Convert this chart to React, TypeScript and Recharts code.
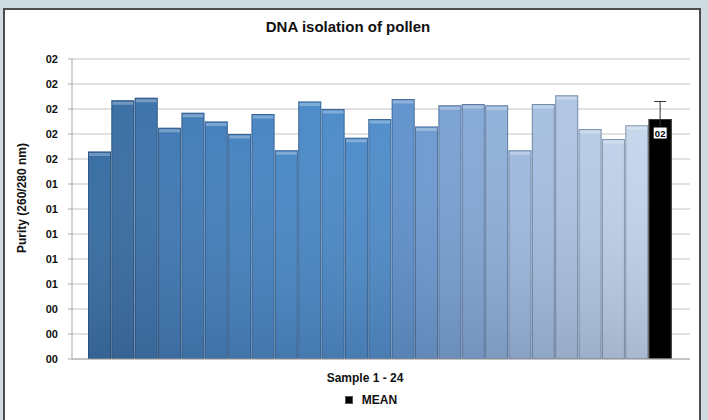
import { Bar, BarChart, CartesianGrid, Cell, ErrorBar, LabelList, Legend, XAxis, YAxis } from "recharts";

const samples = ["1", "2", "3", "4", "5", "6", "7", "8", "9", "10", "11", "12", "13", "14", "15", "16", "17", "18", "19", "20", "21", "22", "23", "24"];
const purity = [1.66, 2.07, 2.09, 1.85, 1.97, 1.9, 1.8, 1.96, 1.67, 2.06, 2.0, 1.77, 1.92, 2.08, 1.86, 2.03, 2.04, 2.03, 1.67, 2.04, 2.11, 1.84, 1.76, 1.87];
const meanLabel = "MEAN";
const meanPurity = 1.92;
const meanError = 0.14;
const yTicks = [0, 0.2, 0.4, 0.6, 0.8, 1.0, 1.2, 1.4, 1.6, 1.8, 2.0, 2.2, 2.4];

const barColors = [
  "#2e679f", "#30679e", "#336ca6", "#3873b0", "#3a77b5", "#3c7ab9", "#3e7ebd", "#4080c0",
  "#4283c3", "#4385c5", "#4586c6", "#4687c7", "#4888c7", "#5a8ecb", "#6896cf", "#759ed1",
  "#80a5d4", "#8badd7", "#9ab7dd", "#a3bddf", "#adc3e2", "#b4c9e5", "#bccfe8", "#c3d4ea",
];
const meanColor = "#000000";

const font = "'Liberation Sans', Arial, sans-serif";

const data = [
  ...samples.map((name, i) => ({ name, purity: purity[i], err: null as number | null })),
  { name: meanLabel, purity: meanPurity, err: meanError },
];

const twoDigits = (v: number) => String(Math.round(v)).padStart(2, "0");

function GlassBar(props: any) {
  const { x, y, width, height, fill, index } = props;
  if (!height || height <= 0) return null;
  const isMean = index === data.length - 1;
  return (
    <g>
      <rect x={x} y={y} width={width} height={height} fill={fill} />
      {!isMean && <rect x={x} y={y} width={width} height={height} fill="url(#bar-shade)" />}
      {!isMean && <rect x={x + 1} y={y + 1.5} width={width - 2} height={3} fill="#ffffff" fillOpacity={0.28} />}
      <rect
        x={x + 0.5}
        y={y + 0.5}
        width={width - 1}
        height={height - 1}
        fill="none"
        stroke={isMean ? "#3a3a3a" : "rgba(20, 40, 70, 0.35)"}
      />
    </g>
  );
}

function MeanTag(props: any) {
  const { x, y, width, value, index } = props;
  if (index !== data.length - 1) return null;
  const cx = x + width / 2;
  return (
    <g>
      <rect x={cx - 7} y={y + 8} width={14} height={12} fill="#ffffff" stroke="#000000" strokeWidth={1} />
      <text x={cx} y={y + 17.5} textAnchor="middle" fontFamily={font} fontSize={9.5} fontWeight={700} fill="#000">
        {twoDigits(value)}
      </text>
    </g>
  );
}

function MeanLegend() {
  return (
    <div style={{ height: 20, display: "flex", alignItems: "center", justifyContent: "center", fontFamily: font }}>
      <span style={{ width: 6, height: 6, background: "#000", border: "1px solid #555", marginRight: 9 }} />
      <span style={{ fontSize: 12, fontWeight: 700, color: "#111" }}>{meanLabel}</span>
    </div>
  );
}

export default function App() {
  return (
    <div style={{ position: "fixed", left: 0, top: 0, width: 708, height: 420, background: "#cfdbe3", overflow: "hidden" }}>
      <div
        style={{
          position: "absolute",
          left: 3,
          top: 8,
          width: 694,
          height: 430,
          background: "#ffffff",
          border: "2px solid #4d4d4d",
        }}
      />
      <div
        style={{
          position: "absolute",
          left: 0,
          top: 18,
          width: 696,
          textAlign: "center",
          fontFamily: font,
          fontSize: 15,
          fontWeight: 700,
          color: "#111",
        }}
      >
        DNA isolation of pollen
      </div>
      <div style={{ position: "absolute", left: 0, top: 0 }}>
        <BarChart width={708} height={420} data={data} barCategoryGap={0} margin={{ top: 59, right: 18, bottom: 13, left: 10 }}>
          <defs>
            <linearGradient id="bar-shade" x1="0" x2="0" y1="0" y2="1">
              <stop offset="0%" stopColor="#ffffff" stopOpacity={0.06} />
              <stop offset="100%" stopColor="#4a5468" stopOpacity={0.22} />
            </linearGradient>
          </defs>
          <CartesianGrid vertical={false} stroke="#c2c2c2" />
          <XAxis
            dataKey="name"
            tick={false}
            tickLine={false}
            axisLine={{ stroke: "#a8a8a8" }}
            height={28}
            padding={{ left: 16, right: 18 }}
            label={{
              content: ({ viewBox }: any) => (
                <text
                  x={viewBox.x + viewBox.width / 2 - 16}
                  y={viewBox.y + 23}
                  textAnchor="middle"
                  fontFamily={font}
                  fontSize={12}
                  fontWeight={700}
                  fill="#111"
                >
                  Sample 1 - 24
                </text>
              ),
            }}
          />
          <YAxis
            domain={[0, 2.4]}
            ticks={yTicks}
            interval={0}
            tickFormatter={twoDigits}
            tick={{ fill: "#111", fontSize: 11, fontWeight: 700, fontFamily: font }}
            tickLine={{ stroke: "#a8a8a8" }}
            tickSize={4}
            tickMargin={10}
            axisLine={{ stroke: "#a8a8a8" }}
            width={62}
            label={{
              content: () => (
                <text
                  x={0}
                  y={0}
                  transform="translate(26, 198) rotate(-90)"
                  textAnchor="middle"
                  fontFamily={font}
                  fontSize={12}
                  fontWeight={700}
                  fill="#111"
                >
                  Purity (260/280 nm)
                </text>
              ),
            }}
          />
          <Legend verticalAlign="bottom" content={<MeanLegend />} wrapperStyle={{ left: 271, width: 200, bottom: 10 }} />
          <Bar dataKey="purity" isAnimationActive={false} shape={<GlassBar />}>
            {data.map((row, i) => (
              <Cell key={row.name} fill={i < barColors.length ? barColors[i] : meanColor} />
            ))}
            <ErrorBar dataKey="err" width={6} stroke="#333333" strokeWidth={1} direction="y" />
            <LabelList dataKey="purity" content={<MeanTag />} />
          </Bar>
        </BarChart>
      </div>
    </div>
  );
}
